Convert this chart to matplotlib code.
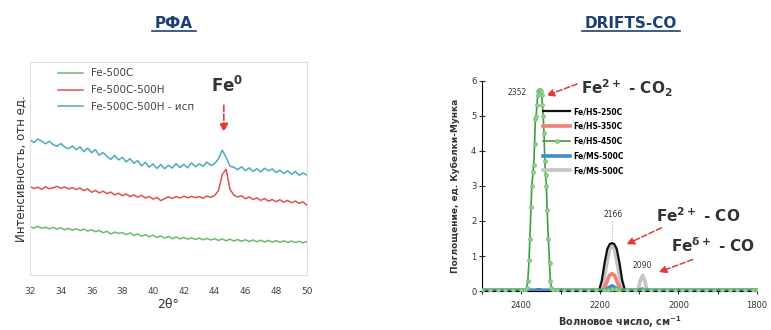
import matplotlib
matplotlib.use("Agg")
import matplotlib.pyplot as plt
import numpy as np
from matplotlib.lines import Line2D

plt.rcParams["mathtext.fontset"] = "custom"
plt.rcParams["mathtext.bf"] = "DejaVu Sans:bold"
plt.rcParams["mathtext.rm"] = "DejaVu Sans"
plt.rcParams["mathtext.default"] = "bf"

# ---- РФА (XRD) data, 2theta 32..50 step 0.25 ----
xrd_cyan = [63.5, 62.2, 63.8, 62.9, 61.6, 62.8, 61.2, 60.4, 61.7, 60.1, 59.3, 60.6, 58.8,
            60.2, 57.9, 59.6, 57.4, 58.8, 56.2, 57.5, 55.6, 54.3, 56.1, 54.0, 55.2, 53.1,
            54.6, 52.4, 53.7, 51.2, 52.9, 50.6, 52.1, 50.0, 51.8, 49.9, 51.5, 50.2, 52.3,
            50.4, 51.9, 50.3, 52.6, 50.8, 52.2, 51.0, 53.0, 51.4, 52.3, 54.5, 58.6, 55.2,
            51.0, 50.6, 49.4, 50.8, 49.0, 50.3, 48.6, 49.9, 48.4, 50.1, 48.9, 49.8, 48.1,
            49.2, 47.6, 48.9, 47.3, 48.6, 46.8, 47.9, 46.9]
xrd_red = [41.5, 40.6, 41.2, 40.2, 41.4, 40.5, 40.9, 41.6, 40.7, 41.3, 40.4, 41.0, 40.1,
           40.8, 39.6, 40.4, 38.8, 39.7, 38.5, 39.3, 38.2, 38.9, 37.6, 38.4, 37.2, 38.0,
           36.8, 37.6, 36.5, 37.4, 36.1, 36.9, 35.6, 36.4, 34.9, 35.8, 36.7, 35.9, 36.8,
           36.1, 37.0, 36.2, 36.9, 36.3, 36.8, 36.0, 37.1, 36.4, 37.3, 39.5, 47.2, 49.6,
           40.2, 37.5, 36.6, 37.2, 35.8, 36.6, 35.4, 36.2, 35.0, 35.9, 34.6, 35.4, 34.4,
           35.3, 34.1, 35.0, 33.9, 34.7, 33.6, 34.3, 32.8]
xrd_green = [22.6, 22.0, 22.8, 21.9, 22.4, 21.6, 22.3, 21.5, 22.1, 21.2, 21.9, 21.0, 21.7,
             20.8, 21.5, 20.6, 21.2, 20.3, 20.9, 19.8, 20.5, 19.2, 20.1, 19.5, 19.9, 18.9,
             19.7, 18.6, 19.2, 18.2, 18.9, 17.9, 18.6, 17.6, 18.3, 17.3, 18.1, 17.0, 17.8,
             16.9, 17.6, 16.8, 17.4, 16.6, 17.3, 16.5, 17.1, 16.4, 17.0, 16.2, 16.9, 16.0,
             16.8, 15.9, 16.6, 15.8, 16.5, 15.7, 16.4, 15.6, 16.3, 15.5, 16.2, 15.4, 16.1,
             15.3, 16.0, 15.2, 15.9, 15.2, 15.8, 15.1, 15.6]
xrd_labels = ["Fe-500C", "Fe-500C-500H", "Fe-500C-500H - исп"]
xrd_ticks = [32, 34, 36, 38, 40, 42, 44, 46, 48, 50]

# ---- DRIFTS-CO data ----
d_black_x = [2500, 2365, 2355, 2345, 2202, 2195, 2188, 2181, 2175, 2169, 2163, 2157, 2150,
             2143, 2136, 2100, 2090, 2082, 1800]
d_black_y = [0.02, 0.02, 0.06, 0.02, 0.02, 0.3, 0.8, 1.2, 1.34, 1.37, 1.34, 1.2, 0.8,
             0.3, 0.02, 0.02, 0.05, 0.02, 0.02]
d_red_x = [2500, 2390, 2382, 2375, 2192, 2184, 2176, 2169, 2162, 2154, 2146, 1800]
d_red_y = [0.02, 0.02, 0.04, 0.02, 0.02, 0.2, 0.44, 0.5, 0.44, 0.2, 0.02, 0.02]
d_green_x = [2500, 2480, 2460, 2440, 2420, 2400, 2390, 2386, 2383, 2380, 2378, 2375, 2373,
             2370, 2368, 2366, 2364, 2362, 2360, 2358, 2356, 2354, 2352, 2350, 2348, 2346,
             2344, 2342, 2340, 2338, 2336, 2334, 2331, 2328, 2326, 2323, 2320, 2310, 2290,
             2270, 2250, 2230, 2210, 2190, 2180, 2170, 2160, 2150, 2130, 2110, 2090, 2070,
             2050, 2030, 2010, 1990, 1970, 1950, 1930, 1910, 1890, 1870, 1850, 1830, 1810,
             1800]
d_green_y = [0.02, 0.02, 0.02, 0.02, 0.02, 0.02, 0.03, 0.1, 0.3, 0.9, 1.5, 2.4, 3.0,
             3.4, 3.6, 4.2, 4.9, 5.0, 5.3, 5.6, 5.7, 5.75, 5.75, 5.7, 5.6, 5.3,
             5.0, 4.5, 3.7, 3.3, 3.0, 2.3, 1.5, 0.8, 0.3, 0.1, 0.03, 0.02, 0.02,
             0.02, 0.02, 0.02, 0.02, 0.02, 0.03, 0.05, 0.05, 0.03, 0.02, 0.02, 0.02, 0.02,
             0.02, 0.02, 0.02, 0.02, 0.02, 0.02, 0.02, 0.02, 0.02, 0.02, 0.02, 0.02, 0.02,
             0.02]
d_blue_x = [2500, 2187, 2177, 2169, 2161, 2151, 2100, 2092, 2084, 1800]
d_blue_y = [0.02, 0.02, 0.1, 0.15, 0.1, 0.02, 0.02, 0.06, 0.02, 0.02]
d_gray_x = [2500, 2198, 2190, 2182, 2175, 2169, 2163, 2156, 2148, 2140, 2103, 2097, 2091,
            2086, 2080, 1800]
d_gray_y = [0.02, 0.02, 0.3, 0.8, 1.2, 1.3, 1.2, 0.8, 0.3, 0.02, 0.02, 0.3, 0.45, 0.3, 0.02, 0.02]
d_labels = ["Fe/HS-250C", "Fe/HS-350C", "Fe/HS-450C", "Fe/MS-500C", "Fe/MS-500C"]
d_peaks = [2352, 2166, 2090]
d_peak_h = [5.67, 2.18, 0.74]

title_col = "#1c3f7a"
red_arrow = "#e53a33"

fig = plt.figure(figsize=(7.71, 3.30), dpi=100)

# ---------------- left: РФА ----------------
ax1 = fig.add_axes([0.039, 0.167, 0.359, 0.645])
for ys, c, lab in [(xrd_green, "#6cba6a", xrd_labels[0]),
                   (xrd_red, "#e2524b", xrd_labels[1]),
                   (xrd_cyan, "#4ea9be", xrd_labels[2])]:
    ax1.plot(np.linspace(32, 50, len(ys)), ys, color=c, lw=1.1, label=lab)
ax1.set_xlim(32, 50)
ax1.set_ylim(0, 100)
ax1.set_xticks(xrd_ticks)
ax1.set_yticks([])
ax1.tick_params(axis="x", length=0, pad=9, labelsize=6.5, colors="#444444")
for s in ax1.spines.values():
    s.set_color("#e0e0e0")
ax1.set_xlabel("2θ°", fontsize=9, color="#333333", labelpad=1)
ax1.set_ylabel("Интенсивность, отн ед.", fontsize=8.5, color="#333333", labelpad=2)
ax1.legend(loc="upper left", bbox_to_anchor=(0.1, 0.97), frameon=False, fontsize=7.5,
           handlelength=2.4, labelspacing=0.65, borderaxespad=0, borderpad=0,
           labelcolor="#444444")
ax1.annotate("", xy=(44.6, 65.7), xytext=(44.6, 81),
             arrowprops=dict(arrowstyle="-|>,head_width=0.25,head_length=0.5",
                             color=red_arrow, lw=1.2, linestyle="--"))
ax1.text(44.8, 89, "Fe$^{0}$", fontsize=12, fontweight="bold", ha="center", va="center",
         color="#333333")

# ---------------- right: DRIFTS-CO ----------------
ax2 = fig.add_axes([0.625, 0.118, 0.357, 0.637])
ax2.plot(d_gray_x, d_gray_y, color="#c4c4c4", lw=2.6, label=d_labels[4], zorder=2)
ax2.plot(d_black_x, d_black_y, color="#111111", lw=1.6, label=d_labels[0], zorder=3)
ax2.plot(d_red_x, d_red_y, color="#f08078", lw=2.6, label=d_labels[1], zorder=3)
ax2.plot(d_green_x, d_green_y, color="#3f9d45", lw=1.2, marker="o", ms=2.8,
         mfc="#8fd18b", mec="#6cbf6a", mew=0.5, label=d_labels[2], zorder=4)
ax2.plot(d_blue_x, d_blue_y, color="#3d8fd0", lw=2.6, label=d_labels[3], zorder=3)
ax2.set_xlim(2500, 1800)
ax2.set_ylim(0, 6)
ax2.set_xticks([2400, 2200, 2000, 1800])
ax2.set_xticks([2500, 2300, 2100, 1900], minor=True)
ax2.set_yticks([0, 1, 2, 3, 4, 5, 6])
ax2.tick_params(axis="both", which="both", direction="inout", length=4, width=0.8,
                labelsize=6, colors="#333333", pad=2)
ax2.tick_params(axis="x", which="major", pad=5)
ax2.spines["top"].set_visible(False)
ax2.spines["right"].set_visible(False)
ax2.set_xlabel("Волновое число, см$^{-1}$", fontsize=7, fontweight="bold",
               color="#333333", labelpad=3)
ax2.set_ylabel("Поглощение, ед. Кубелки-Мунка", fontsize=6.5, fontweight="bold",
               color="#333333", labelpad=8)
handles, labels = ax2.get_legend_handles_labels()
order = [1, 2, 3, 4, 0]
ax2.legend([handles[i] for i in order], [labels[i] for i in order], loc="upper left",
           bbox_to_anchor=(0.222, 0.875), frameon=False, handlelength=3.6, numpoints=1,
           labelspacing=0.75, borderaxespad=0, borderpad=0, handletextpad=0.3,
           prop={"weight": "bold", "size": 5.5})

ax2.text(2410, d_peak_h[0], str(d_peaks[0]), fontsize=5.5, ha="center", va="center",
         color="#333333")
ax2.text(2166, d_peak_h[1], str(d_peaks[1]), fontsize=5.5, ha="center", va="center",
         color="#333333")
ax2.plot([2169, 2169], [1.47, 2.0], color="#aaaaaa", lw=0.8, ls=":")
ax2.text(2092, d_peak_h[2], str(d_peaks[2]), fontsize=5.5, ha="center", va="center",
         color="#333333")

arrow_kw = dict(arrowstyle="-|>,head_width=0.22,head_length=0.45", color=red_arrow,
                lw=1.1, linestyle="--")
ax2.annotate("", xy=(2343, 5.55), xytext=(2251, 5.94), arrowprops=arrow_kw,
             annotation_clip=False)
ax2.text(2131, 5.80, "Fe$^{2+}$ - CO$_2$", fontsize=11, fontweight="bold", ha="center",
         va="center", color="#333333")
ax2.annotate("", xy=(2139, 1.30), xytext=(2037, 1.84), arrowprops=arrow_kw)
ax2.text(1949, 2.15, "Fe$^{2+}$ - CO", fontsize=11, fontweight="bold", ha="center",
         va="center", color="#333333")
ax2.annotate("", xy=(2057, 0.51), xytext=(1957, 0.93), arrowprops=arrow_kw)
ax2.text(1912, 1.30, "Fe$^{\\delta+}$ - CO", fontsize=11, fontweight="bold", ha="center",
         va="center", color="#333333")

# ---------------- titles ----------------
for x, t, w in [(174 / 771, "РФА", 44 / 771), (631 / 771, "DRIFTS-CO", 98 / 771)]:
    fig.text(x, 1 - 23 / 330, t, fontsize=11, fontweight="bold", color=title_col,
             ha="center", va="center")
    fig.add_artist(Line2D([x - w / 2, x + w / 2], [1 - 31 / 330, 1 - 31 / 330],
                          transform=fig.transFigure, color=title_col, lw=1.2))

fig.savefig("out.png", dpi=100)
